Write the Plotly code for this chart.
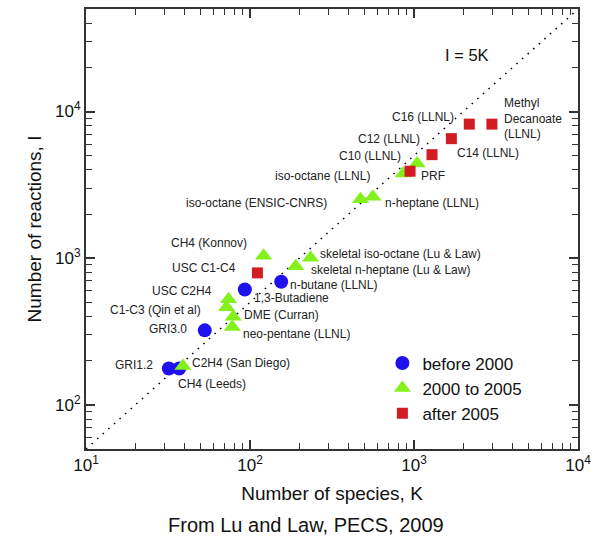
import plotly.graph_objects as go

# ---------------- data ----------------
before2000_names = ["GRI1.2", "CH4 (Leeds)", "GRI3.0", "1,3-Butadiene", "n-butane (LLNL)"]
before2000_K = [32, 37, 53, 93, 155]
before2000_I = [177, 177, 322, 611, 690]

mid_names = ["C2H4 (San Diego)", "C1-C3 (Qin et al)", "USC C2H4", "DME (Curran)",
             "neo-pentane (LLNL)", "CH4 (Konnov)", "skeletal n-heptane (Lu & Law)",
             "skeletal iso-octane (Lu & Law)", "iso-octane (ENSIC-CNRS)",
             "n-heptane (LLNL)", "iso-octane (LLNL)", "PRF"]
mid_K = [39, 72, 74, 79, 78, 121, 190, 234, 472, 561, 861, 1045]
mid_I = [184, 463, 525, 398, 340, 1040, 880, 1005, 2520, 2620, 3780, 4420]

after2005_names = ["USC C1-C4", "PRF", "C10 (LLNL)", "C12 (LLNL)", "C16 (LLNL)",
                   "Methyl Decanoate (LLNL)"]
after2005_K = [111, 946, 1288, 1690, 2173, 2986]
after2005_I = [794, 3917, 5080, 6530, 8204, 8204]

line_K = [10, 10000]
line_I = [50, 50000]

x_tickvals = [10, 100, 1000, 10000]
x_ticktext = ["10<sup>1</sup>", "10<sup>2</sup>", "10<sup>3</sup>", "10<sup>4</sup>"]
y_tickvals = [100, 1000, 10000]
y_ticktext = ["10<sup>2</sup>", "10<sup>3</sup>", "10<sup>4</sup>"]

# ---------------- layout helpers ----------------
W, H = 598, 539
X0, X1, Y0, Y1 = 86, 579, 7, 449  # plot area in pixels


def pxx(x):
    return (x - X0) / (X1 - X0)


def pxy(y):
    return (Y1 - y) / (Y1 - Y0)


FONT = "Liberation Sans, Arial, sans-serif"
TXT = "#222222"

labels = [
    ("Methyl<br>Decanoate<br>(LLNL)", 503, 117, "left"),
    ("C16 (LLNL)", 457, 115, "right"),
    ("C12 (LLNL)", 423, 138, "right"),
    ("C10 (LLNL)", 404, 155, "right"),
    ("C14 (LLNL)", 456, 152, "left"),
    ("PRF", 420, 175, "left"),
    ("iso-octane (LLNL)", 373, 175, "right"),
    ("iso-octane (ENSIC-CNRS)", 329, 202, "right"),
    ("n-heptane (LLNL)", 384, 202, "left"),
    ("CH4 (Konnov)", 249, 242, "right"),
    ("USC C1-C4", 238, 267, "right"),
    ("skeletal iso-octane (Lu & Law)", 318, 253, "left"),
    ("skeletal n-heptane (Lu & Law)", 309, 269, "left"),
    ("n-butane (LLNL)", 288, 284, "left"),
    ("1,3-Butadiene", 252, 297, "left"),
    ("USC C2H4", 214, 290, "right"),
    ("C1-C3 (Qin et al)", 203, 309, "right"),
    ("DME (Curran)", 242, 314, "left"),
    ("neo-pentane (LLNL)", 241, 333, "left"),
    ("GRI3.0", 189, 328, "right"),
    ("GRI1.2", 155, 365, "right"),
    ("C2H4 (San Diego)", 190, 363, "left"),
    ("CH4 (Leeds)", 176, 384, "left"),
]

fig = go.Figure()

fig.add_trace(go.Scatter(
    x=line_K, y=line_I, mode="lines",
    line=dict(color="black", width=1.6, dash="1.5px,6px"),
    showlegend=False, hoverinfo="skip"))

fig.add_trace(go.Scatter(
    x=before2000_K, y=before2000_I, mode="markers", name="before 2000",
    text=before2000_names,
    marker=dict(symbol="circle", size=14, color="#1f10ee")))

fig.add_trace(go.Scatter(
    x=mid_K, y=mid_I, mode="markers", name="2000 to 2005",
    text=mid_names,
    marker=dict(symbol="triangle-up", size=15, color="#84f01c")))

fig.add_trace(go.Scatter(
    x=after2005_K, y=after2005_I, mode="markers", name="after 2005",
    text=after2005_names,
    marker=dict(symbol="square", size=11, color="#d01c22")))

annotations = []
for text, x, y, anchor in labels:
    annotations.append(dict(
        text=text, x=pxx(x), y=pxy(y), xref="paper", yref="paper",
        xanchor=anchor, yanchor="middle", showarrow=False, align="left",
        font=dict(family=FONT, size=12, color=TXT)))

annotations.append(dict(
    text="I = 5K", x=pxx(468), y=pxy(53), xref="paper", yref="paper",
    xanchor="center", yanchor="middle", showarrow=False,
    font=dict(family=FONT, size=16.5, color="#111")))

annotations.append(dict(
    text="From Lu and Law, PECS, 2009", x=pxx(306), y=pxy(525),
    xref="paper", yref="paper", xanchor="center", yanchor="middle",
    showarrow=False,
    font=dict(family=FONT, size=20, color="#111")))

axis_common = dict(
    type="log", showgrid=False, zeroline=False,
    showline=True, linecolor="#333", linewidth=2, mirror="allticks",
    ticks="inside", ticklen=9, tickwidth=1.5, tickcolor="#333",
    tickfont=dict(family=FONT, size=17, color="#111"),
)

fig.update_layout(
    width=W, height=H,
    margin=dict(l=X0, r=W - X1, t=Y0, b=H - Y1),
    paper_bgcolor="white", plot_bgcolor="white",
    font=dict(family=FONT, color="#111"),
    xaxis=dict(
        **axis_common,
        range=[1, 4],
        tickmode="array", tickvals=x_tickvals, ticktext=x_ticktext,
        minor=dict(ticks="inside", ticklen=6, tickwidth=1.2, tickcolor="#333",
                   tickvals=[20, 30, 40, 50, 60, 70, 80, 90,
                             200, 300, 400, 500, 600, 700, 800, 900,
                             2000, 3000, 4000, 5000, 6000, 7000, 8000, 9000]),
        title=dict(text="Number of species, K", font=dict(family=FONT, size=19, color="#111"),
                   standoff=12),
    ),
    yaxis=dict(
        **axis_common,
        range=[1.69897, 4.69897],
        tickmode="array", tickvals=y_tickvals, ticktext=y_ticktext,
        minor=dict(ticks="inside", ticklen=6, tickwidth=1.2, tickcolor="#333",
                   tickvals=[60, 70, 80, 90,
                             200, 300, 400, 500, 600, 700, 800, 900,
                             2000, 3000, 4000, 5000, 6000, 7000, 8000, 9000,
                             20000, 30000, 40000]),
        title=dict(text="Number of reactions, I", font=dict(family=FONT, size=19, color="#111"),
                   standoff=8),
    ),
    legend=dict(
        x=pxx(383), y=pxy(345), xanchor="left", yanchor="top",
        bgcolor="rgba(0,0,0,0)", borderwidth=0,
        font=dict(family=FONT, size=17, color="#111"),
        itemwidth=30, tracegroupgap=0,
    ),
    annotations=annotations,
)

fig.write_html(
    "out.html",
    config={"displayModeBar": False},
    post_script="document.body.style.margin='0';document.body.style.padding='0';",
)
